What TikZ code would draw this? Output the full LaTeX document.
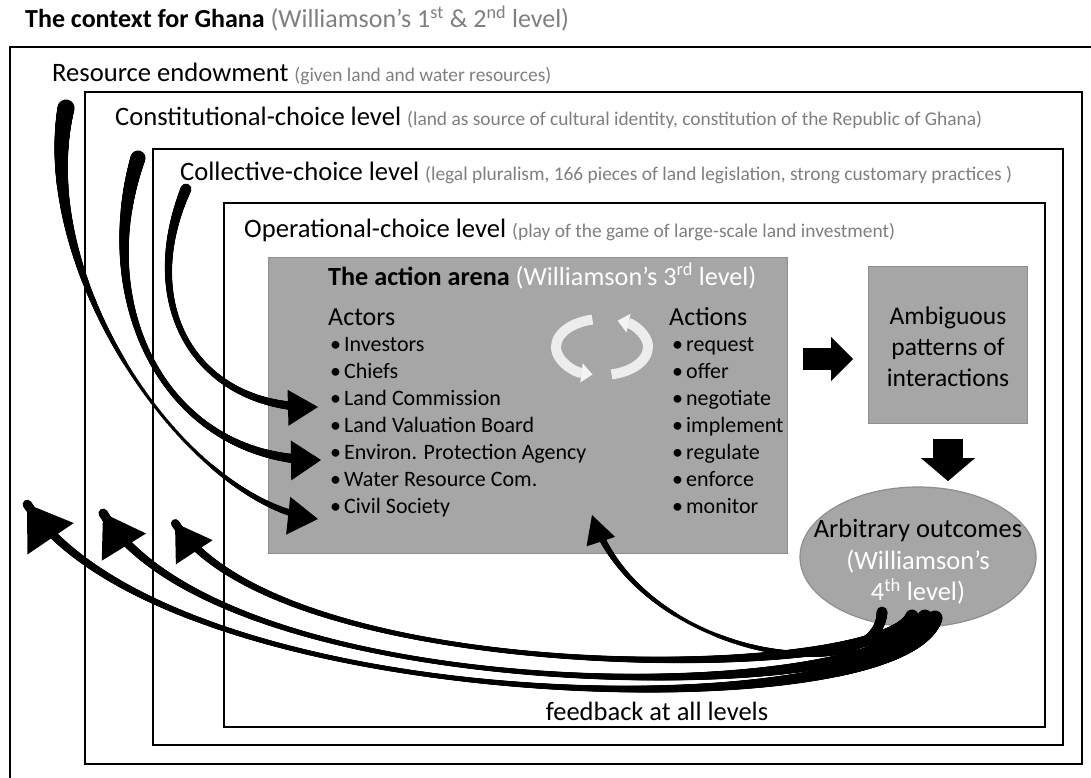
\documentclass[tikz,border=0pt]{standalone}
\usepackage{fontspec}
\setmainfont{Carlito}
\usetikzlibrary{arrows.meta,decorations.markings,shapes.geometric,calc}

\definecolor{panelgray}{HTML}{A6A6A6}
\definecolor{paneledge}{HTML}{8E8E8E}
\definecolor{notegray}{HTML}{7F7F7F}
\definecolor{cycwhite}{HTML}{F4F4F4}

\newcommand{\setfs}[2]{\fontsize{#1}{#2}\selectfont}
\newcommand{\note}[1]{{\color{notegray}\setfs{19.4}{23}#1}}
% triangular head at the end of a swoosh: tip, last control point, length, half width
\newcommand{\swooshhead}[4]{%
  \path ($(#1)!#3!(#2)$) coordinate (swhb);
  \fill (#1) -- ($(swhb)!#4!90:(#1)$) -- ($(swhb)!#4!-90:(#1)$) -- cycle;}

\tikzset{
  levelbox/.style={draw=black, line width=2.2pt},
  levellabel/.style={anchor=base west, inner sep=0pt, font=\setfs{26.6}{30}},
  panel/.style={draw=paneledge, line width=1.2pt, fill=panelgray},
  itemtext/.style={anchor=base west, inner sep=0pt, font=\setfs{22}{26}},
  headtext/.style={anchor=base west, inner sep=0pt, font=\setfs{26}{30}},
  blockarrow/.style n args={3}{draw=black, line width=#1, line cap=butt,
    -{Triangle[length=#2, width=#3, line width=0.1pt]}},
  % curved shaft: wide at the tail, thin in the middle, wider again at the head;
  % args: tail width, middle width, head-end width
  swoosh/.style n args={3}{decorate, decoration={markings,
      mark=between positions 0 and -14pt step 0.7pt with {%
        \pgfmathsetmacro\tapf{\pgfkeysvalueof{/pgf/decoration/mark info/distance from start}/\pgfdecoratedpathlength}%
        \pgfmathsetmacro\tapr{0.5*(#1*(1-\tapf)^2+(4*#2-#1-#3)*\tapf*(1-\tapf)+#3*\tapf^2)}%
        \pgfpathcircle{\pgfpointorigin}{\tapr pt}\pgfusepath{fill}%
      }}},
  cycarrow/.style={draw=cycwhite, draw opacity=0.92, line width=10pt, line cap=butt,
    -{Triangle[length=11pt, width=19pt, line width=0.1pt]}},
}

\begin{document}
\begin{tikzpicture}[x=1pt, y=-1pt]
\useasboundingbox (0,0) rectangle (1091,778);
\clip (0,0) rectangle (1091,778);
\fill[white] (0,0) rectangle (1091,778);

% title
\node[anchor=base west, inner sep=0pt, font=\setfs{26}{30}] (title) at (25,28)
  {\textbf{The context for Ghana} {\color{notegray}(Williamson’s 1\textsuperscript{st} \& 2\textsuperscript{nd} level)}};

% nested levels
\draw[levelbox] (10,47) rectangle (1100,790);
\draw[levelbox] (85,92) rectangle (1082,764);
\draw[levelbox] (153,149) rectangle (1063,745);
\draw[levelbox] (224,203) rectangle (1045,727);

\node[levellabel] (lres) at (52,82) {Resource endowment \note{(given land and water resources)}};
\node[levellabel] (lcon) at (115,126) {Constitutional-choice level \note{(land as source of cultural identity, constitution of the Republic of Ghana)}};
\node[levellabel] (lcol) at (180,181) {Collective-choice level \note{(legal pluralism, 166 pieces of land legislation, strong customary practices )}};
\node[levellabel] (lope) at (244,237) {Operational-choice level \note{(play of the game of large-scale land investment)}};

% action arena
\node[panel, minimum width=519pt, minimum height=296pt, anchor=north west] (arena) at (268,257) {};
\node[anchor=base west, inner sep=0pt, font=\setfs{26.2}{30}] (arenahead) at (328,285)
  {\textbf{The action arena} {\color{white}(Williamson's 3\textsuperscript{rd} level)}};
\node[headtext] (actors) at (328,325) {Actors};
\node[headtext] (actions) at (669,325) {Actions};
\foreach \t [count=\i] in {Investors, Chiefs, Land Commission, Land Valuation Board,
    Environ. Protection Agency, Water Resource Com., Civil Society}
  \node[itemtext] (actor\i) at (330,324+27*\i) {\textbullet\hspace{3pt}\t};
\foreach \t [count=\i] in {request, offer, negotiate, implement, regulate, enforce, monitor}
  \node[itemtext] (action\i) at (672,324+27*\i) {\textbullet\hspace{3pt}\t};

% interaction cycle icon
\draw[cycarrow] (602,347) ++(258:46 and 28) arc[start angle=258, end angle=102, x radius=46, y radius=28];
\draw[cycarrow] (602,347) ++(78:46 and 28) arc[start angle=78, end angle=-70, x radius=46, y radius=28];

% patterns and outcomes
\node[panel, minimum width=159pt, minimum height=157pt, anchor=north west] (amb) at (868,266) {};
\node[align=center, inner sep=0pt, font=\setfs{25.5}{31}] (ambtext) at (948,347)
  {Ambiguous\\patterns of\\interactions};
\node[panel, ellipse, minimum width=236pt, minimum height=140pt] (outc) at (918,557) {};
\node[align=center, inner sep=0pt, font=\setfs{26.5}{31.5}] (outctext) at (918,562)
  {Arbitrary outcomes\\{\color{white}(Williamson’s}\\{\color{white}4\textsuperscript{th} level)}};

\coordinate (ra) at (803,359);
\coordinate (rb) at (853,359);
\draw[blockarrow={22pt}{22pt}{44pt}] (ra) -- (rb);
\coordinate (da) at (948,439);
\coordinate (db) at (948,481);
\draw[blockarrow={30pt}{23pt}{54pt}] (da) -- (db);

\node[inner sep=0pt, font=\setfs{26.5}{30}] (fb) at (657,711) {feedback at all levels};

% influence of the outer levels on the actors
\coordinate (tailA) at (66,108);  \coordinate (ctlA) at (190,505); \coordinate (tipA) at (318,519);
\coordinate (tailB) at (138,158); \coordinate (ctlB) at (170,462); \coordinate (tipB) at (321,460);
\coordinate (tailC) at (186,189); \coordinate (ctlC) at (200,410); \coordinate (tipC) at (318,407);
\path[swoosh={17}{4}{8}] (tailA) .. controls (32,280) and (ctlA) .. (tipA);
\path[swoosh={15}{6}{11}] (tailB) .. controls (90,310) and (ctlB) .. (tipB);
\path[swoosh={11}{6}{10}] (tailC) .. controls (135,310) and (ctlC) .. (tipC);
\swooshhead{tipA}{ctlA}{30pt}{19pt}
\swooshhead{tipB}{ctlB}{30pt}{20pt}
\swooshhead{tipC}{ctlC}{30pt}{18pt}

% feedback from the outcomes
\coordinate (fo1) at (935,618); \coordinate (fc1) at (175,722); \coordinate (fi1) at (27,504);
\coordinate (fo2) at (925,617); \coordinate (fc2) at (225,712); \coordinate (fi2) at (103,513);
\coordinate (fo3) at (912,616); \coordinate (fc3) at (285,690); \coordinate (fi3) at (175,523);
\coordinate (fo4) at (882,612); \coordinate (fc4) at (640,660); \coordinate (fi4) at (592,515);
\path[swoosh={15}{5}{10}] (fo1) .. controls (900,730) and (fc1) .. (fi1);
\path[swoosh={15}{5}{10}] (fo2) .. controls (895,708) and (fc2) .. (fi2);
\path[swoosh={13}{5}{9}] (fo3) .. controls (885,682) and (fc3) .. (fi3);
\path[swoosh={11}{4}{8}] (fo4) .. controls (880,690) and (fc4) .. (fi4);
\swooshhead{fi1}{fc1}{42pt}{28pt}
\swooshhead{fi2}{fc2}{40pt}{26pt}
\swooshhead{fi3}{fc3}{35pt}{22pt}
\swooshhead{fi4}{fc4}{28pt}{15pt}
\end{tikzpicture}
\end{document}
